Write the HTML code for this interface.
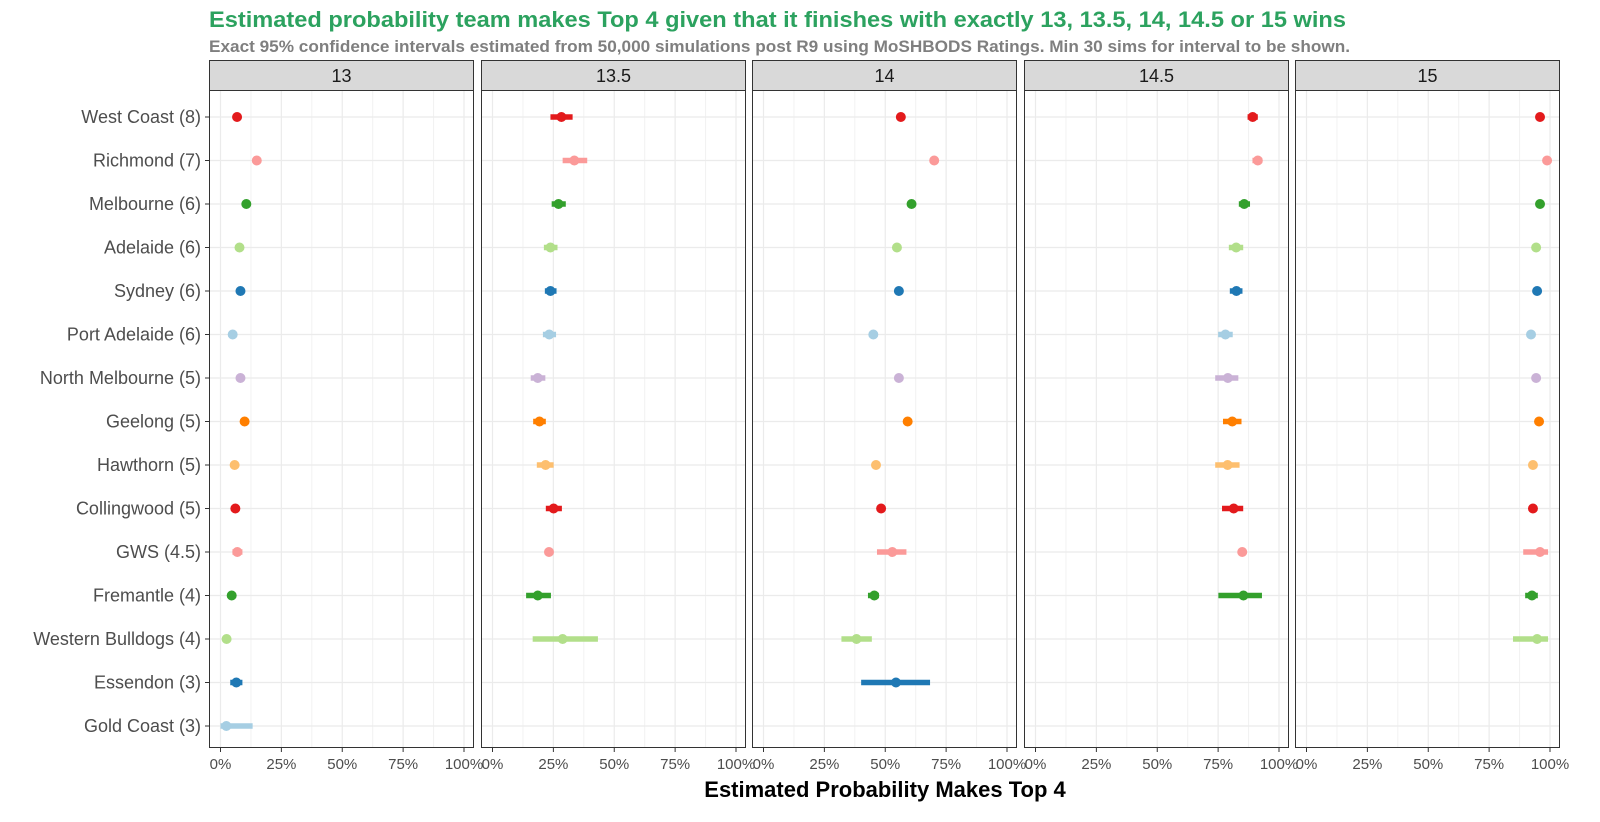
<!DOCTYPE html>
<html><head><meta charset="utf-8"><style>
html,body{margin:0;padding:0;background:#fff;}
svg{display:block;font-family:"Liberation Sans",Arial,sans-serif;}
</style></head><body>
<svg id="chart" width="1600" height="822" viewBox="0 0 1600 822">
<text x="209" y="27" font-size="22" font-weight="bold" fill="#2ca25f" textLength="1137" lengthAdjust="spacingAndGlyphs">Estimated probability team makes Top 4 given that it finishes with exactly 13, 13.5, 14, 14.5 or 15 wins</text>
<text x="209" y="52" font-size="17" font-weight="bold" fill="#7f7f7f" textLength="1141" lengthAdjust="spacingAndGlyphs">Exact 95% confidence intervals estimated from 50,000 simulations post R9 using MoSHBODS Ratings. Min 30 sims for interval to be shown.</text>
<text x="885" y="797" font-size="22" font-weight="bold" fill="#000" text-anchor="middle">Estimated Probability Makes Top 4</text>
<g id="plot"></g>
</svg>
<script>
const teams = ["West Coast (8)","Richmond (7)","Melbourne (6)","Adelaide (6)","Sydney (6)","Port Adelaide (6)","North Melbourne (5)","Geelong (5)","Hawthorn (5)","Collingwood (5)","GWS (4.5)","Fremantle (4)","Western Bulldogs (4)","Essendon (3)","Gold Coast (3)"];
const teamColors = ["#e31a1c","#fb9a99","#33a02c","#b2df8a","#1f78b4","#a6cee3","#cab2d6","#ff7f00","#fdbf6f","#e31a1c","#fb9a99","#33a02c","#b2df8a","#1f78b4","#a6cee3"];
const panels = ["13","13.5","14","14.5","15"];
const xTicks = [0,0.25,0.5,0.75,1];
const xTickLabels = ["0%","25%","50%","75%","100%"];
const est13 = [0.068,0.149,0.106,0.078,0.082,0.05,0.082,0.099,0.058,0.061,0.069,0.046,0.025,0.065,0.024];
const lo13 = [0.055,0.135,0.093,0.065,0.069,0.037,0.069,0.086,0.045,0.048,0.049,0.033,0.012,0.040,0.0];
const hi13 = [0.081,0.163,0.119,0.091,0.095,0.063,0.095,0.112,0.071,0.074,0.090,0.059,0.038,0.090,0.132];
const est135 = [0.283,0.336,0.271,0.238,0.238,0.233,0.186,0.193,0.218,0.251,0.232,0.186,0.288,null,null];
const lo135 = [0.238,0.288,0.243,0.211,0.215,0.207,0.157,0.167,0.182,0.219,0.215,0.138,0.165,null,null];
const hi135 = [0.329,0.389,0.301,0.267,0.263,0.261,0.217,0.219,0.251,0.285,0.249,0.240,0.433,null,null];
const est14 = [0.564,0.701,0.608,0.548,0.556,0.451,0.556,0.592,0.462,0.483,0.529,0.455,0.382,0.544,null];
const lo14 = [0.549,0.686,0.593,0.533,0.541,0.436,0.541,0.577,0.447,0.468,0.466,0.429,0.320,0.401,null];
const hi14 = [0.579,0.716,0.623,0.563,0.571,0.466,0.571,0.607,0.477,0.498,0.587,0.474,0.445,0.684,null];
const est145 = [0.892,0.913,0.857,0.824,0.825,0.780,0.790,0.808,0.789,0.814,0.849,0.854,null,null,null];
const lo145 = [0.871,0.891,0.835,0.794,0.798,0.750,0.738,0.770,0.738,0.766,0.834,0.751,null,null,null];
const hi145 = [0.913,0.931,0.881,0.853,0.850,0.810,0.833,0.846,0.838,0.853,0.864,0.930,null,null,null];
const est15 = [0.959,0.988,0.959,0.943,0.947,0.922,0.943,0.955,0.930,0.930,0.959,0.926,0.947,null,null];
const lo15 = [0.948,0.975,0.948,0.932,0.936,0.911,0.932,0.944,0.919,0.919,0.890,0.898,0.848,null,null];
const hi15 = [0.970,1.0,0.970,0.954,0.958,0.933,0.954,0.966,0.941,0.941,0.992,0.950,0.992,null,null];
const estAll = [est13,est135,est14,est145,est15];
const loAll = [lo13,lo135,lo14,lo145,lo15];
const hiAll = [hi13,hi135,hi14,hi145,hi15];

const NS = "http://www.w3.org/2000/svg";
const g = document.getElementById('plot');
function mk(tag, attrs, parent){const e=document.createElementNS(NS,tag);for(const k in attrs)e.setAttribute(k,attrs[k]);(parent||g).appendChild(e);return e;}
const panelLeft = [209,481,752,1024,1295], panelW = 265, plotTop = 90, plotBottom = 748, stripTop = 60;
function xScale(p, v){ return panelLeft[p] + 11.5 + v*243.5; }
function yScale(i){ return 117 + i*43.5; }

teams.forEach((t,i)=>{
  const tx = mk('text',{x:201,y:yScale(i)+6,'font-size':18,'text-anchor':'end',fill:'#4d4d4d'});
  
  
  tx.textContent = t;
  const tk = mk('line',{x1:205,x2:209,y1:yScale(i),y2:yScale(i),stroke:'#333','stroke-width':1});
  
  
});

panels.forEach((pn,p)=>{
  const L = panelLeft[p];
  const pg = mk('g',{});
  
  
  const st = mk('rect',{x:L+0.5,y:stripTop+0.5,width:panelW-1,height:plotTop-stripTop,fill:'#d9d9d9',stroke:'#333','stroke-width':1},pg);
  
  
  const sl = mk('text',{x:L+panelW/2,y:stripTop+22,'font-size':18,'text-anchor':'middle',fill:'#1a1a1a'},pg);
  
  
  sl.textContent = pn;
  for(let m=0.125;m<1.1;m+=0.25){
    const ml = mk('line',{x1:xScale(p,m),x2:xScale(p,m),y1:plotTop,y2:plotBottom,stroke:'#f2f2f2','stroke-width':1},pg);
    
    
  }
  xTicks.forEach((v,k)=>{
    const gl = mk('line',{x1:xScale(p,v),x2:xScale(p,v),y1:plotTop,y2:plotBottom,stroke:'#ebebeb','stroke-width':1.2},pg);
    
    
    const tk = mk('line',{x1:xScale(p,v),x2:xScale(p,v),y1:plotBottom,y2:plotBottom+4,stroke:'#333','stroke-width':1},pg);
    
    
    const tl = mk('text',{x:xScale(p,v),y:plotBottom+21,'font-size':15,'text-anchor':'middle',fill:'#4d4d4d'},pg);
    
    
    tl.textContent = xTickLabels[k];
  });
  teams.forEach((t,i)=>{
    const hl = mk('line',{x1:L,x2:L+panelW,y1:yScale(i),y2:yScale(i),stroke:'#ebebeb','stroke-width':1.2},pg);
    
    
  });
  const est = estAll[p], lo = loAll[p], hi = hiAll[p];
  est.forEach((v,i)=>{
    if(v===null) return;
    const y = yScale(i);
    const bar = mk('line',{x1:xScale(p,lo[i]),x2:xScale(p,hi[i]),y1:y,y2:y,stroke:teamColors[i],'stroke-width':5.5},pg);
    
    
    const pt = mk('ellipse',{cx:xScale(p,v),cy:y,rx:5,ry:5,fill:teamColors[i]},pg);
    
    
  });
  const bd = mk('rect',{x:L+0.5,y:plotTop+0.5,width:panelW-1,height:plotBottom-plotTop-1,fill:'none',stroke:'#333','stroke-width':1},pg);
  
  
});
</script>
</body></html>
